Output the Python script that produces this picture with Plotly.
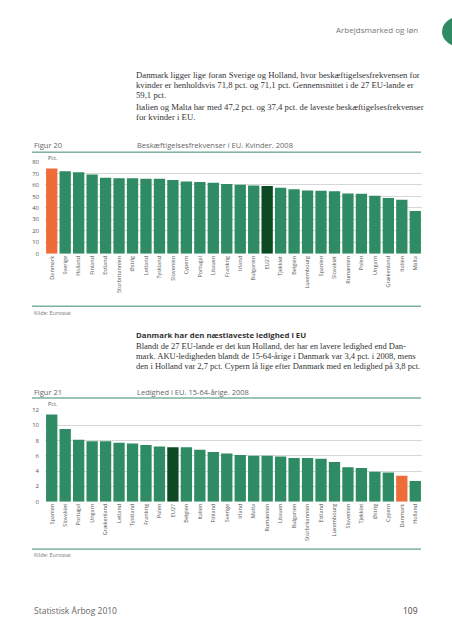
import plotly.graph_objects as go

W, H = 452, 640

# ---- data ----
countries_emp = ["Danmark", "Sverige", "Holland", "Finland", "Estland", "Storbritannien", "Østrig",
                 "Letland", "Tyskland", "Slovenien", "Cypern", "Portugal", "Litauen", "Frankrig",
                 "Irland", "Bulgarien", "EU27", "Tjekkiet", "Belgien", "Luxembourg", "Spanien",
                 "Slovakiet", "Rumænien", "Polen", "Ungarn", "Grækenland", "Italien", "Malta"]
values_emp = [74.3, 71.8, 71.1, 69.0, 66.3, 65.8, 65.8, 65.4, 65.4, 64.2, 62.9, 62.5, 61.8, 60.7,
              60.2, 59.5, 59.1, 57.6, 56.2, 55.1, 54.9, 54.6, 52.5, 52.4, 50.6, 48.7, 47.2, 37.4]

countries_unemp = ["Spanien", "Slovakiet", "Portugal", "Ungarn", "Grækenland", "Letland", "Tyskland",
                   "Frankrig", "Polen", "EU27", "Belgien", "Italien", "Finland", "Sverige", "Irland",
                   "Malta", "Rumænien", "Litauen", "Bulgarien", "Storbritannien", "Estland",
                   "Luxembourg", "Slovenien", "Tjekkiet", "Østrig", "Cypern", "Danmark", "Holland"]
values_unemp = [11.4, 9.5, 8.1, 7.9, 7.9, 7.7, 7.6, 7.4, 7.2, 7.1, 7.1, 6.8, 6.5, 6.3, 6.1,
                6.0, 6.0, 5.9, 5.7, 5.7, 5.6, 5.2, 4.5, 4.4, 3.9, 3.8, 3.4, 2.7]

ticks_emp = [0, 10, 20, 30, 40, 50, 60, 70, 80]
ticks_unemp = [0, 2, 4, 6, 8, 10, 12]

GREEN = "#2e8b63"
DARK = "#0b4a23"
ORANGE = "#ee6c3a"
LINE = "#3a8a6c"
GRAY = "#666666"
TEXT = "#333333"


def colors(cats):
    out = []
    for c in cats:
        if c == "Danmark":
            out.append(ORANGE)
        elif c == "EU27":
            out.append(DARK)
        else:
            out.append(GREEN)
    return out


def px(x):
    return x / W


def py(y):
    return 1 - y / H


fig = go.Figure()
fig.add_trace(go.Bar(x=countries_emp, y=values_emp, marker_color=colors(countries_emp),
                     marker_line_width=0, xaxis="x", yaxis="y", hoverinfo="x+y"))
fig.add_trace(go.Bar(x=countries_unemp, y=values_unemp, marker_color=colors(countries_unemp),
                     marker_line_width=0, xaxis="x2", yaxis="y2", hoverinfo="x+y"))

xcommon = dict(tickangle=-90, tickfont=dict(family="Open Sans", size=5.5, color="#555"),
               showgrid=False, showline=False, zeroline=False, ticks="", ticklen=0)
ycommon = dict(showgrid=True, gridcolor="#d6d6d6", gridwidth=0.6, zeroline=False, showline=False,
               tickfont=dict(family="Open Sans", size=6, color="#555"), ticks="", ticklabelstandoff=5)

fig.update_layout(
    width=W, height=H, autosize=False,
    margin=dict(l=0, r=0, t=0, b=0),
    paper_bgcolor="white", plot_bgcolor="white",
    showlegend=False, bargap=0.16,
    xaxis=dict(domain=[px(45), px(422)], anchor="y", **xcommon),
    yaxis=dict(domain=[py(253), py(159.6)], anchor="x", range=[0, 80.3], tickvals=ticks_emp, **ycommon),
    xaxis2=dict(domain=[px(45), px(422)], anchor="y2", **xcommon),
    yaxis2=dict(domain=[py(504), py(410.6)], anchor="x2", range=[0, 12.05], tickvals=ticks_unemp, **ycommon),
)

ann = []


def text(x, y, s, size=8, color=TEXT, family="Liberation Serif", xanchor="left", bold=False):
    if bold:
        s = "<b>" + s + "</b>"
    ann.append(dict(x=px(x), y=py(y), xref="paper", yref="paper", text=s, showarrow=False,
                    xanchor=xanchor, yanchor="middle", align="left",
                    font=dict(size=size, color=color, family=family)))


# page header
text(420, 26, "Arbejdsmarked og løn", size=8, color="#777", family="Open Sans", xanchor="right")

# paragraph 1
p1 = ["Danmark ligger lige foran Sverige og Holland, hvor beskæftigelsesfrekvensen for",
      "kvinder er henholdsvis 71,8 pct. og 71,1 pct. Gennemsnittet i de 27 EU-lande er",
      "59,1 pct."]
for i, s in enumerate(p1):
    text(134, 72 + i * 10.3, s, size=8.7)
p2 = ["Italien og Malta har med 47,2 pct. og 37,4 pct. de laveste beskæftigelsesfrekvenser",
      "for kvinder i EU."]
for i, s in enumerate(p2):
    text(134, 104 + i * 10.6, s, size=8.7)

# figure 20 header
text(32, 143, "Figur 20", size=7.5, color=GRAY, family="Open Sans")
text(135, 143, "Beskæftigelsesfrekvenser i EU. Kvinder. 2008", size=7.5, color=GRAY, family="Open Sans")
text(46, 156, "Pct.", size=5.5, color="#555", family="Open Sans")
text(32, 313, "Kilde: Eurostat", size=5.5, color="#777", family="Open Sans")

# section 2 text
text(134, 335, "Danmark har den næstlaveste ledighed i EU", size=7.8, color="#333", family="Open Sans", bold=True)
p3 = ["Blandt de 27 EU-lande er det kun Holland, der har en lavere ledighed end Dan-",
      "mark. AKU-ledigheden blandt de 15-64-årige i Danmark var 3,4 pct. i 2008, mens",
      "den i Holland var 2,7 pct. Cypern lå lige efter Danmark med en ledighed på 3,8 pct."]
for i, s in enumerate(p3):
    text(134, 346 + i * 10.2, s, size=8.5)

# figure 21 header
text(32, 393, "Figur 21", size=7.5, color=GRAY, family="Open Sans")
text(135, 393, "Ledighed i EU. 15-64-årige. 2008", size=7.5, color=GRAY, family="Open Sans")
text(46, 405, "Pct.", size=5.5, color="#555", family="Open Sans")
text(32, 558, "Kilde: Eurostat", size=5.5, color="#777", family="Open Sans")

# footer
text(32, 614, "Statistisk Årbog 2010", size=8.5, color="#666", family="Open Sans")
text(420, 614, "109", size=8.5, color="#444", family="Open Sans", xanchor="right")

shapes = []
for yl in [150, 306, 399, 552]:
    shapes.append(dict(type="line", xref="paper", yref="paper", x0=px(32), x1=px(421),
                       y0=py(yl), y1=py(yl), line=dict(color=LINE, width=1)))
shapes.append(dict(type="circle", xref="paper", yref="paper", x0=px(442), x1=px(482),
                   y0=py(44), y1=py(12), fillcolor="#2e8b63", line=dict(width=0)))

fig.update_layout(annotations=ann, shapes=shapes)
fig.write_html("out.html", config={"displayModeBar": False},
               post_script="document.body.style.margin='0';document.body.style.overflow='hidden';")
